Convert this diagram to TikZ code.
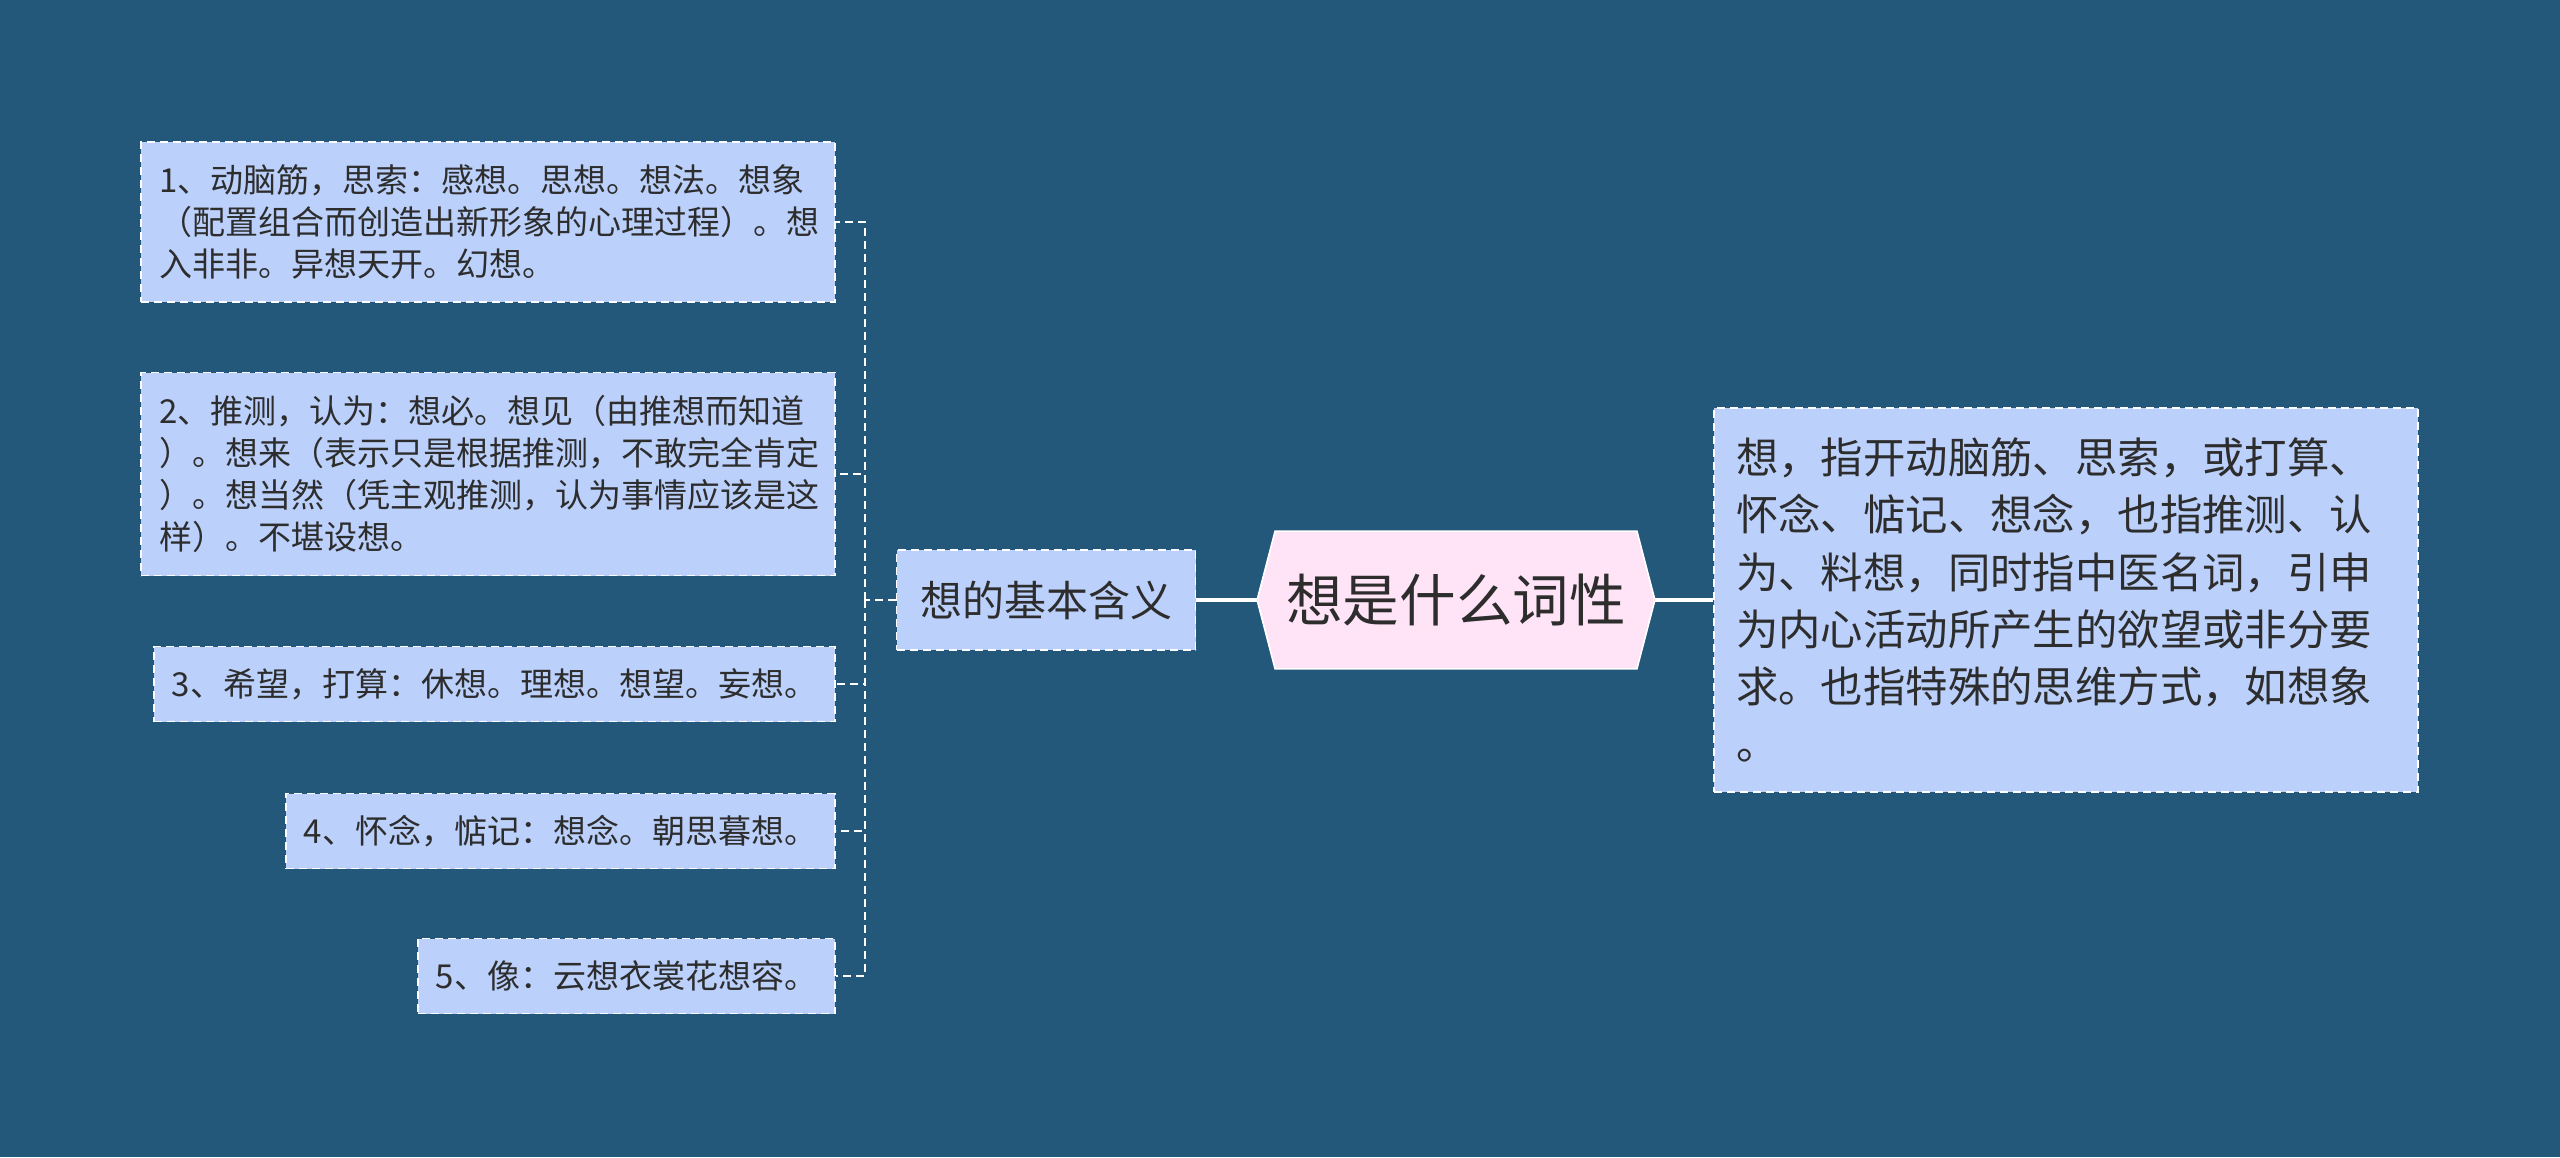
\documentclass[tikz,border=0pt]{standalone}
\usepackage{fontspec}
\setmainfont{Noto Sans CJK SC}
\usetikzlibrary{backgrounds}
\definecolor{bgblue}{RGB}{35,88,122}
\definecolor{boxblue}{RGB}{187,208,251}
\definecolor{rootpink}{RGB}{255,228,247}
\definecolor{ink}{RGB}{45,45,45}
\tikzset{
  leaf/.style={draw=white, dash pattern=on 4pt off 2.5pt, line width=0.9pt, fill=boxblue,
    text=ink, font=\fontsize{16.5}{21}\selectfont, inner xsep=9pt, minimum height=37.5pt, anchor=east},
  longleaf/.style={leaf, text width=329pt, align=left, inner xsep=9pt},
  topic/.style={leaf, anchor=center, font=\fontsize{21}{28}\selectfont, minimum width=149.5pt, minimum height=50pt},
  root/.style={text=ink, font=\fontsize{28.3}{34}\selectfont, minimum width=198.5pt, minimum height=68.5pt, inner sep=0pt},
  link/.style={draw=white, dash pattern=on 4pt off 2.5pt, line width=0.9pt},
  mainlink/.style={draw=white, line width=1.6pt}
}
\begin{document}
\begin{tikzpicture}[x=1pt,y=-1pt]
	\begin{pgfonlayer}{background}
		\fill[bgblue] (0,0) rectangle (1280,578.5);
	\end{pgfonlayer}
	\useasboundingbox (0,0) rectangle (1280,578.5);
	% centre
	\node[root] (root) at (728,300) {想是什么词性};
	\begin{pgfonlayer}{background}
		\filldraw[fill=rootpink, draw=white, line width=0.8pt] (root.west) -- ([xshift=9pt]root.north west) -- ([xshift=-9pt]root.north east)
			-- (root.east) -- ([xshift=-9pt]root.south east) -- ([xshift=9pt]root.south west) -- cycle;
	\end{pgfonlayer}
	\node[topic] (meaning) at (523,300) {想的基本含义};
	\node[leaf, longleaf, anchor=center, minimum height=192pt, text width=330pt, inner xsep=11pt,
		font=\fontsize{21.2}{28.6}\selectfont] (summary) at (1033,300)
		{想，指开动脑筋、思索，或打算、\\怀念、惦记、想念，也指推测、认\\为、料想，同时指中医名词，引申\\为内心活动所产生的欲望或非分要\\求。也指特殊的思维方式，如想象\\。};
	% left branches
	\node[longleaf, minimum height=80pt] (sense1) at (418,111)
		{1、动脑筋，思索：感想。思想。想法。想象\\（配置组合而创造出新形象的心理过程）。想\\入非非。异想天开。幻想。};
	\node[longleaf, minimum height=101.5pt] (sense2) at (418,237)
		{2、推测，认为：想必。想见（由推想而知道\\）。想来（表示只是根据推测，不敢完全肯定\\）。想当然（凭主观推测，认为事情应该是这\\样）。不堪设想。};
	\node[leaf] (sense3) at (418,342) {3、希望，打算：休想。理想。想望。妄想。};
	\node[leaf] (sense4) at (418,415.5) {4、怀念，惦记：想念。朝思暮想。};
	\node[leaf] (sense5) at (418,488) {5、像：云想衣裳花想容。};
	% connectors
	\coordinate (fork) at (432.5,300);
	\draw[mainlink] (root.west) -- (meaning.east);
	\draw[mainlink] (root.east) -- (summary.west);
	\draw[link] (meaning.west) -- (fork);
	\foreach \s in {sense1,sense2,sense3,sense4,sense5}
		\draw[link] (fork) |- (\s.east);
\end{tikzpicture}
\end{document}
